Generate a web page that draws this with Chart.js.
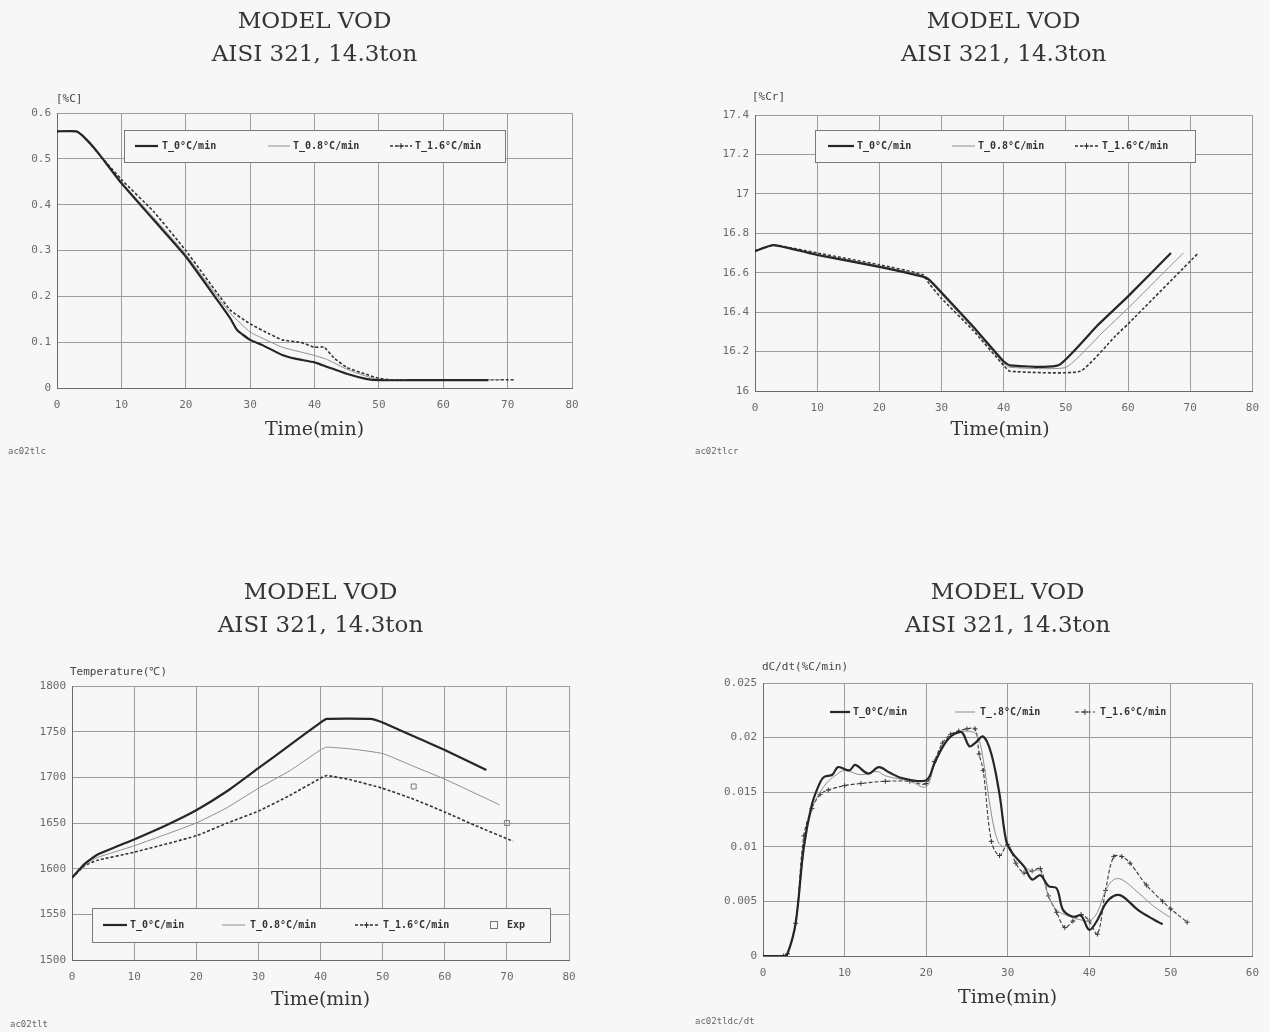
<!DOCTYPE html>
<html>
<head>
<meta charset="utf-8">
<title>MODEL VOD - AISI 321, 14.3ton</title>
<script src="https://cdn.jsdelivr.net/npm/chart.js@4.4.1/dist/chart.umd.min.js"></script>
<style>
  html, body { margin: 0; padding: 0; background: #f7f7f7; }
  #page { position: relative; width: 1270px; height: 1032px; overflow: hidden; }
  canvas { position: absolute; }
</style>
</head>
<body>
<div id="page">
  <canvas id="cCarbon" width="635" height="516" style="left:0;top:0"></canvas>
  <canvas id="cChrome" width="635" height="516" style="left:635px;top:0"></canvas>
  <canvas id="cTemp" width="635" height="516" style="left:0;top:516px"></canvas>
  <canvas id="cRate" width="635" height="516" style="left:635px;top:516px"></canvas>
</div>
<script>
// ---- data (time in min) ----
const seriesLabels = ['T_0°C/min', 'T_0.8°C/min', 'T_1.6°C/min'];
const rateLabels = ['T_0°C/min', 'T_.8°C/min', 'T_1.6°C/min'];

// %C
const carbonTime0 = [0, 3, 4, 6, 10, 15, 20, 25, 27, 28, 30, 32, 35, 37, 40, 42, 45, 48, 50, 55, 60, 67];
const carbonT0 = [0.56, 0.56, 0.55, 0.52, 0.447, 0.367, 0.287, 0.19, 0.15, 0.126, 0.105, 0.093, 0.072, 0.064, 0.056, 0.046, 0.031, 0.02, 0.017, 0.017, 0.017, 0.017];
const carbonTime08 = [0, 3, 4, 10, 15, 20, 25, 27, 30, 32, 35, 38, 40, 42, 45, 48, 50, 60, 69];
const carbonT08 = [0.56, 0.56, 0.55, 0.45, 0.372, 0.292, 0.198, 0.162, 0.122, 0.108, 0.089, 0.078, 0.071, 0.062, 0.041, 0.026, 0.018, 0.018, 0.018];
const carbonTime16 = [0, 3, 4, 10, 15, 20, 25, 27, 30, 33, 35, 38, 40, 41.5, 43, 45, 48, 50, 52, 60, 71];
const carbonT16 = [0.56, 0.56, 0.55, 0.455, 0.385, 0.3, 0.205, 0.169, 0.14, 0.118, 0.105, 0.099, 0.089, 0.089, 0.066, 0.045, 0.03, 0.021, 0.018, 0.018, 0.018];

// %Cr
const chromeTime0 = [0, 3, 10, 20, 27, 28, 30, 35, 40, 41, 48.8, 55, 60, 66.9];
const chromeT0 = [16.71, 16.74, 16.69, 16.63, 16.58, 16.565, 16.5, 16.33, 16.15, 16.13, 16.13, 16.33, 16.48, 16.70];
const chromeTime08 = [0, 3, 10, 20, 27, 28, 30, 35, 40, 41, 50, 56, 60, 68.9];
const chromeT08 = [16.71, 16.74, 16.695, 16.635, 16.585, 16.56, 16.49, 16.32, 16.14, 16.12, 16.12, 16.30, 16.42, 16.70];
const chromeTime16 = [0, 3, 10, 20, 27, 28, 30, 35, 40, 41, 52.3, 58, 60, 71.3];
const chromeT16 = [16.71, 16.74, 16.70, 16.64, 16.59, 16.545, 16.47, 16.31, 16.13, 16.10, 16.10, 16.28, 16.34, 16.70];

// Temperature
const tempTime0 = [0, 2, 4, 10, 15, 20, 25, 30, 35, 40, 41, 48, 50, 55, 60, 66.7];
const tempT0 = [1590, 1605, 1615, 1632, 1647, 1664, 1685, 1710, 1735, 1760, 1764, 1764, 1760, 1745, 1730, 1708];
const tempTime08 = [0, 2, 4, 10, 20, 25, 30, 35, 40, 41, 45, 50, 55, 60, 68.8];
const tempT08 = [1590, 1603, 1612, 1625, 1650, 1667, 1688, 1707, 1730, 1733, 1731, 1726, 1712, 1698, 1670];
const tempTime16 = [0, 2, 4, 10, 20, 25, 30, 35, 40, 41, 45, 50, 55, 60, 65, 71];
const tempT16 = [1590, 1603, 1609, 1618, 1636, 1650, 1663, 1680, 1699, 1702, 1697, 1688, 1676, 1662, 1647, 1630];
const expTime = [55, 70];
const expTemp = [1690, 1650];

// dC/dt
const rateTime0 = [0, 2.5, 3, 4, 5, 6, 7, 7.5, 8.5, 9.2, 10.6, 11.3, 12.9, 14.2, 15.5, 17, 20, 21, 22, 23, 24, 24.5, 25.3, 26, 27, 28, 29, 29.8, 30.5, 32, 33, 34, 35, 36, 36.8, 38, 39, 40, 41, 42, 43, 44, 46, 48, 49];
const rateT0 = [0, 0, 0.0002, 0.003, 0.010, 0.0139, 0.0159, 0.0164, 0.0166, 0.0173, 0.0170, 0.0175, 0.0167, 0.0173, 0.0168, 0.0163, 0.0161, 0.0176, 0.0191, 0.0201, 0.0205, 0.0204, 0.0192, 0.0195, 0.0201, 0.0185, 0.0148, 0.0106, 0.0095, 0.0082, 0.0070, 0.0074, 0.0064, 0.0062, 0.0042, 0.0036, 0.0037, 0.0024, 0.0033, 0.0048, 0.0055, 0.0055, 0.0042, 0.0033, 0.0029];
const rateTime08 = [0, 2.5, 3, 4, 5, 6, 7, 8, 9, 10, 12, 14, 15, 18, 20, 21, 22, 23, 24, 25, 26, 26.5, 27, 28, 28.8, 29.5, 30, 31, 32, 33, 34, 35, 36, 37, 38, 39, 40, 41, 42, 43, 44, 46, 48, 50];
const rateT08 = [0, 0, 0.0003, 0.003, 0.0095, 0.0135, 0.015, 0.016, 0.0166, 0.0170, 0.0166, 0.0169, 0.0165, 0.0160, 0.0155, 0.0175, 0.0193, 0.0202, 0.0205, 0.0206, 0.0204, 0.0198, 0.0180, 0.0130, 0.0105, 0.0100, 0.0102, 0.0090, 0.0082, 0.0078, 0.0078, 0.0055, 0.0042, 0.0038, 0.0035, 0.0033, 0.0032, 0.0040, 0.0060, 0.0070, 0.0070, 0.0058, 0.0045, 0.0035];
const rateTime16 = [0, 2.5, 3, 4, 5, 6, 7, 8, 10, 12, 15, 18, 20, 21, 22, 23, 24, 25, 26, 26.5, 27, 28, 29, 30, 31, 32, 33, 34, 35, 36, 37, 38, 39, 40, 41, 42, 43, 44, 45, 47, 49, 50, 52];
const rateT16 = [0, 0, 0.0002, 0.003, 0.011, 0.0135, 0.0148, 0.0152, 0.0156, 0.0158, 0.0160, 0.0160, 0.0158, 0.0178, 0.0195, 0.0203, 0.0206, 0.0208, 0.0208, 0.0185, 0.0170, 0.0105, 0.0092, 0.0102, 0.0085, 0.0076, 0.0078, 0.0080, 0.0055, 0.0040, 0.0026, 0.0032, 0.0038, 0.0032, 0.0020, 0.0060, 0.0091, 0.0091, 0.0085, 0.0065, 0.0050, 0.0043, 0.0031];

// ---- styling ----
const BG = '#f7f7f7';
const MONO = '"DejaVu Sans Mono", monospace';
const SERIF = '"DejaVu Serif", serif';

const zip = (xs, ys) => xs.map((x, i) => ({ x, y: ys[i] }));
const tickText = (v) => String(+Number(v).toFixed(3));

function lineSets(labels, pairs, opts = {}) {
  const styles = [
    { borderColor: '#262626', borderWidth: 2.2, borderDash: [] },
    { borderColor: '#8e8e8e', borderWidth: 1, borderDash: [] },
    { borderColor: '#333333', borderWidth: 1.6, borderDash: [3, 2] },
  ];
  return pairs.map(([xs, ys], i) => ({
    label: labels[i],
    data: zip(xs, ys),
    ...styles[i],
    pointRadius: 0,
    tension: opts.tension ?? 0.15,
    fill: false,
  }));
}

// draws the titles, axis unit, x title, file code and legend at fixed spots
const panelText = {
  id: 'panelText',
  afterDraw(chart, args, o) {
    const { ctx, chartArea: a } = chart;
    const cx = (a.left + a.right) / 2;
    ctx.save();
    ctx.textBaseline = 'middle';

    ctx.fillStyle = '#353535';
    ctx.textAlign = 'center';
    ctx.font = `23px ${SERIF}`;
    o.title.forEach((t, i) => ctx.fillText(t, cx, o.titleY[i]));

    ctx.font = `19px ${SERIF}`;
    ctx.fillText('Time(min)', o.xTitleX ?? cx, o.xTitleY);

    ctx.textAlign = 'left';
    ctx.fillStyle = '#444';
    ctx.font = `11px ${MONO}`;
    ctx.fillText(o.unit, o.unitX, o.unitY);

    ctx.fillStyle = '#666';
    ctx.font = `9px ${MONO}`;
    ctx.fillText(o.code, o.codeX, o.codeY);

    const lg = o.legend;
    if (lg.box) {
      const [bx, by, bw, bh] = lg.box;
      ctx.fillStyle = BG;
      ctx.fillRect(bx, by, bw, bh);
      ctx.strokeStyle = '#7a7a7a';
      ctx.lineWidth = 1;
      ctx.strokeRect(bx + 0.5, by + 0.5, bw, bh);
    }
    ctx.font = `bold 10px ${MONO}`;
    lg.items.forEach((it, i) => {
      const ds = chart.data.datasets[i];
      const y = lg.y;
      if (it.square) {
        ctx.strokeStyle = '#777';
        ctx.lineWidth = 1;
        ctx.strokeRect(it.x1 + 0.5, y - 3.5, 7, 7);
      } else {
        ctx.strokeStyle = ds.borderColor;
        ctx.lineWidth = ds.borderWidth;
        ctx.setLineDash(ds.borderDash || []);
        ctx.beginPath();
        ctx.moveTo(it.x1, y);
        ctx.lineTo(it.x2, y);
        ctx.stroke();
        ctx.setLineDash([]);
        if (it.cross) {
          const m = (it.x1 + it.x2) / 2;
          ctx.lineWidth = 1;
          ctx.beginPath();
          ctx.moveTo(m - 3, y); ctx.lineTo(m + 3, y);
          ctx.moveTo(m, y - 3); ctx.lineTo(m, y + 3);
          ctx.stroke();
        }
      }
      ctx.fillStyle = '#333';
      ctx.fillText(ds.label, it.tx, y);
    });
    ctx.restore();
  },
};

function axes(x, y, box) {
  const grid = { color: '#9c9c9c', lineWidth: 1, drawTicks: false };
  const border = { color: '#6a6a6a', width: 1 };
  const ticks = { color: '#6a6a6a', font: { family: MONO, size: 11 } };
  return {
    x: {
      type: 'linear', min: x.min, max: x.max,
      grid, border,
      ticks: { ...ticks, stepSize: 10, padding: 11, callback: tickText },
      afterFit: (s) => { s.height = 30; },
    },
    y: {
      type: 'linear', min: y.min, max: y.max,
      grid, border,
      ticks: { ...ticks, stepSize: y.step, padding: 6, callback: tickText },
      afterFit: (s) => { s.width = box; },
    },
  };
}

function makePanel(id, datasets, x, y, padding, text) {
  return new Chart(document.getElementById(id), {
    type: 'line',
    data: { datasets },
    options: {
      responsive: false,
      animation: false,
      events: [],
      layout: { padding },
      scales: axes(x, y, 50),
      plugins: {
        legend: { display: false },
        tooltip: { enabled: false },
        panelText: text,
      },
    },
    plugins: [panelText],
  });
}

const titleLines = ['MODEL VOD', 'AISI 321, 14.3ton'];

makePanel('cCarbon',
  lineSets(seriesLabels, [[carbonTime0, carbonT0], [carbonTime08, carbonT08], [carbonTime16, carbonT16]]),
  { min: 0, max: 80 }, { min: 0, max: 0.6, step: 0.1 },
  { left: 7, right: 63, top: 113, bottom: 98 },
  {
    title: titleLines, titleY: [22, 55], xTitleY: 430,
    unit: '[%C]', unitX: 56, unitY: 99,
    code: 'ac02tlc', codeX: 8, codeY: 452,
    legend: {
      box: [124, 130, 381, 32], y: 146,
      items: [{ x1: 135, x2: 158, tx: 162 }, { x1: 268, x2: 290, tx: 293 }, { x1: 390, x2: 412, tx: 415, cross: true }],
    },
  });

makePanel('cChrome',
  lineSets(seriesLabels, [[chromeTime0, chromeT0], [chromeTime08, chromeT08], [chromeTime16, chromeT16]]),
  { min: 0, max: 80 }, { min: 16, max: 17.4, step: 0.2 },
  { left: 70, right: 15, top: 115, bottom: 95 },
  {
    title: titleLines, titleY: [22, 55], xTitleY: 430, xTitleX: 365,
    unit: '[%Cr]', unitX: 117, unitY: 97,
    code: 'ac02tlcr', codeX: 60, codeY: 452,
    legend: {
      box: [180, 130, 380, 32], y: 146,
      items: [{ x1: 193, x2: 219, tx: 222 }, { x1: 317, x2: 340, tx: 343 }, { x1: 440, x2: 463, tx: 467, cross: true }],
    },
  });

const tempSets = lineSets(seriesLabels, [[tempTime0, tempT0], [tempTime08, tempT08], [tempTime16, tempT16]]);
tempSets.push({
  label: 'Exp',
  data: zip(expTime, expTemp),
  showLine: false,
  pointStyle: 'rect',
  pointRadius: 3.5,
  pointBorderWidth: 1,
  borderColor: '#7a7a7a',
  backgroundColor: 'rgba(0,0,0,0)',
});
makePanel('cTemp', tempSets,
  { min: 0, max: 80 }, { min: 1500, max: 1800, step: 50 },
  { left: 22, right: 66, top: 170, bottom: 42 },
  {
    title: titleLines, titleY: [77, 110], xTitleY: 484,
    unit: 'Temperature(℃)', unitX: 70, unitY: 156,
    code: 'ac02tlt', codeX: 10, codeY: 509,
    legend: {
      box: [92, 392, 458, 34], y: 409,
      items: [{ x1: 103, x2: 127, tx: 130 }, { x1: 222, x2: 245, tx: 250 }, { x1: 355, x2: 378, tx: 383, cross: true }, { x1: 490, square: true, tx: 507 }],
    },
  });

const rateSets = lineSets(rateLabels, [[rateTime0, rateT0], [rateTime08, rateT08], [rateTime16, rateT16]], { tension: 0.35 });
Object.assign(rateSets[2], {
  borderWidth: 1.1, borderDash: [4, 2], borderColor: '#3a3a3a',
  pointStyle: 'cross', pointRadius: 2.5, pointBorderWidth: 1, pointBorderColor: '#3a3a3a',
});
makePanel('cRate', rateSets,
  { min: 0, max: 60 }, { min: 0, max: 0.025, step: 0.005 },
  { left: 78, right: 12, top: 167, bottom: 46 },
  {
    title: titleLines, titleY: [77, 110], xTitleY: 482,
    unit: 'dC/dt(%C/min)', unitX: 127, unitY: 151,
    code: 'ac02tldc/dt', codeX: 60, codeY: 506,
    legend: {
      box: null, y: 196,
      items: [{ x1: 195, x2: 215, tx: 218 }, { x1: 320, x2: 340, tx: 345 }, { x1: 440, x2: 460, tx: 465, cross: true }],
    },
  });
</script>
</body>
</html>
